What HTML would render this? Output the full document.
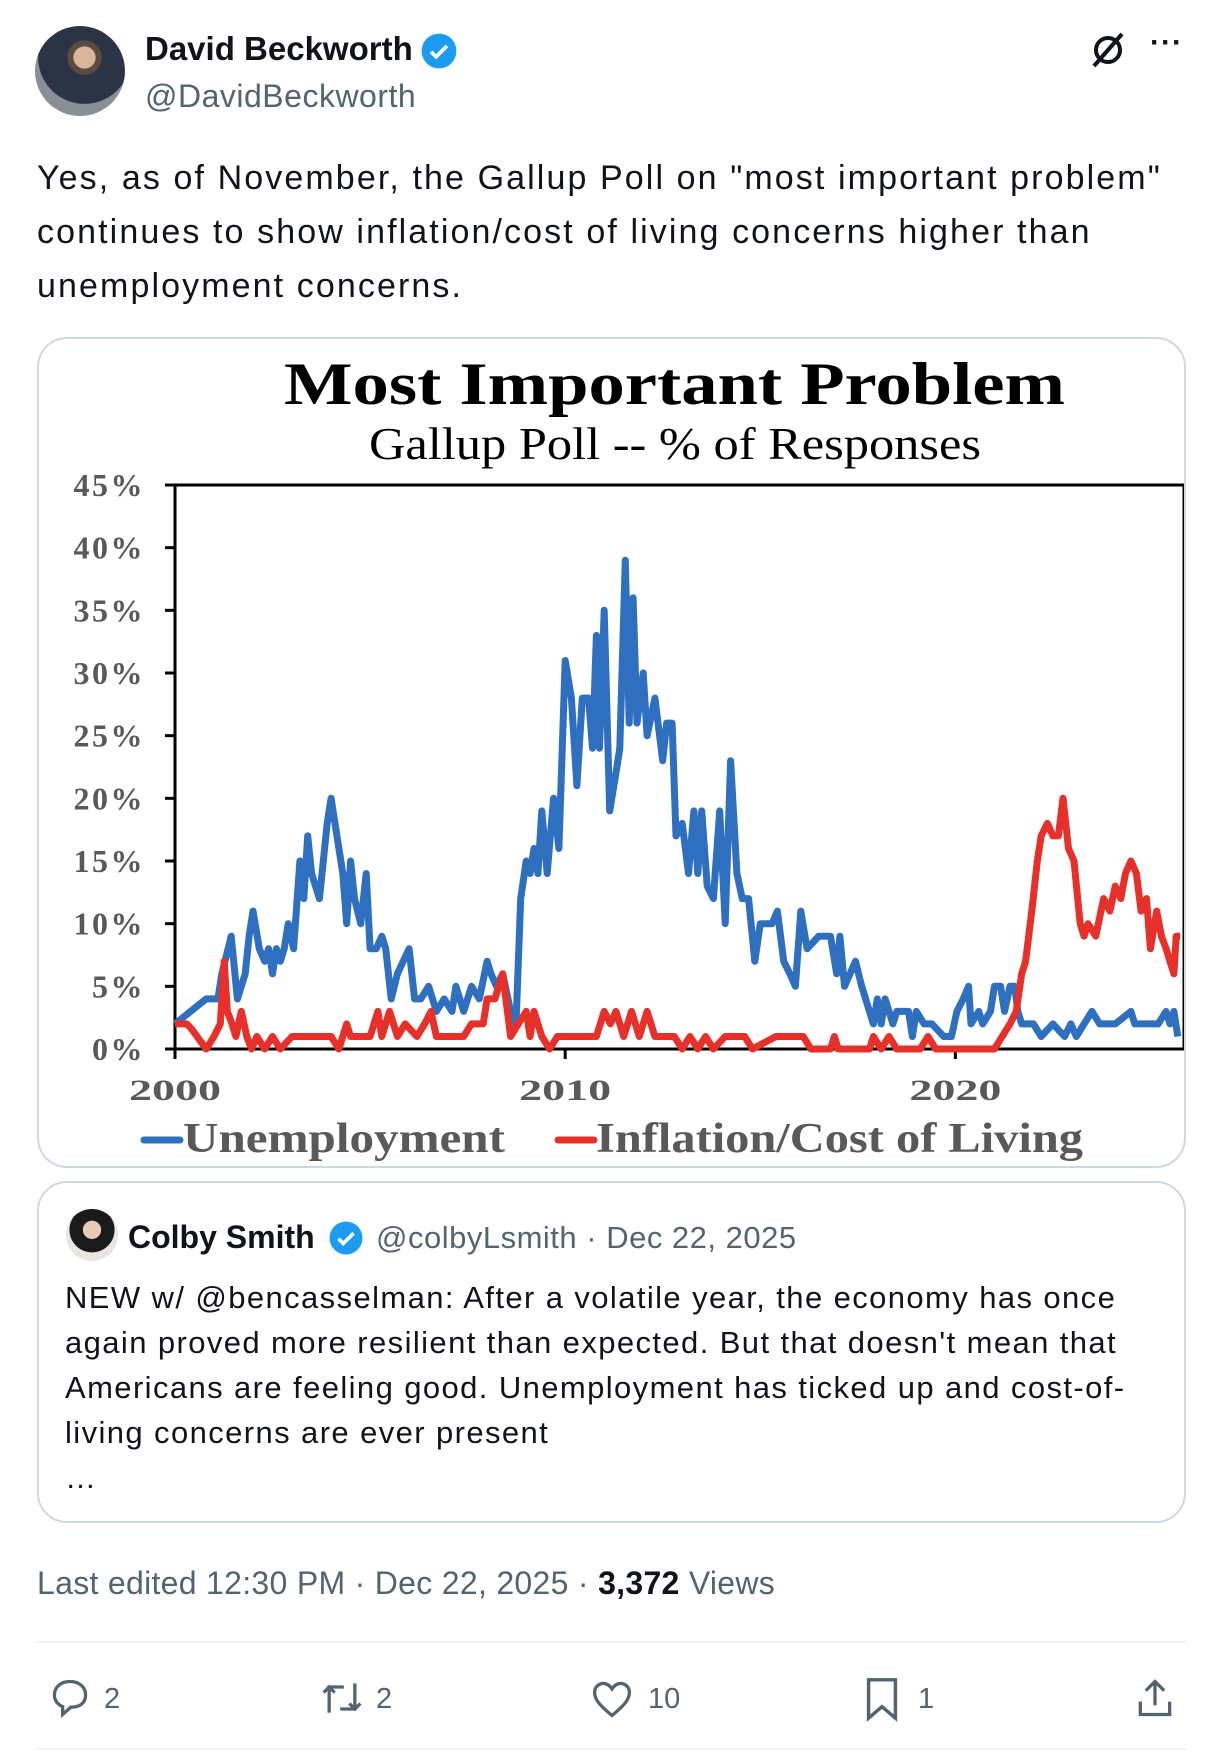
<!DOCTYPE html>
<html><head><meta charset="utf-8">
<style>
body{margin:0;width:1229px;height:1758px;background:#fff;position:relative;overflow:hidden;font-family:"Liberation Sans",sans-serif;color:#0f1419}
.abs{position:absolute;white-space:nowrap}
.gray{color:#536471}
</style></head><body>
<div class="abs" style="left:35px;top:26px;width:90px;height:90px;border-radius:50%;background:radial-gradient(circle at 55% 35%,#d9b59a 0 14%,#5a4a40 15% 22%,#2b3445 23% 60%,#8a8f96 61%);"></div>
<div class="abs" style="left:145px;top:30px;font-size:33px;font-weight:bold;">David Beckworth</div>
<svg class="abs" style="left:420px;top:32px" width="38" height="38" viewBox="0 0 24 24"><circle cx="12" cy="12" r="11" fill="#1d9bf0"/><path d="M7 12.5l3.2 3.2L17 8.8" stroke="#fff" stroke-width="2.4" fill="none"/></svg>
<div class="abs gray" style="left:145px;top:78px;font-size:32px;letter-spacing:0.5px">@DavidBeckworth</div>
<svg class="abs" style="left:1088px;top:30px" width="40" height="40" viewBox="0 0 40 40"><circle cx="20" cy="20" r="12" stroke="#0f1419" stroke-width="4" fill="none"/><path d="M34 4L6 36" stroke="#0f1419" stroke-width="4"/></svg>
<div class="abs" style="left:1150px;top:26px;font-size:30px;font-weight:bold;letter-spacing:1px">···</div>
<div class="abs" style="left:37px;top:151px;font-size:34px;line-height:54px;letter-spacing:2.1px">Yes, as of November, the Gallup Poll on "most important problem"<br>continues to show inflation/cost of living concerns higher than<br>unemployment concerns.</div>

<div class="abs" style="left:37px;top:337px;width:1149px;height:831px;border:2px solid #cfd9de;border-radius:30px;box-sizing:border-box;overflow:hidden">
<svg id="chart" width="1149" height="831" style="position:absolute;left:-37px;top:-337px;overflow:visible"></svg>
</div>

<div class="abs" style="left:37px;top:1181px;width:1149px;height:342px;border:2px solid #cfd9de;border-radius:30px;box-sizing:border-box"></div>
<div class="abs" style="left:66px;top:1209px;width:52px;height:52px;border-radius:50%;background:radial-gradient(circle at 50% 40%,#e8c9b5 0 22%,#1a1a1a 23% 55%,#e9e6e2 56%)"></div>
<div class="abs" style="left:128px;top:1219px;font-size:32px;font-weight:bold">Colby Smith</div>
<svg class="abs" style="left:328px;top:1220px" width="36" height="36" viewBox="0 0 24 24"><circle cx="12" cy="12" r="11" fill="#1d9bf0"/><path d="M7 12.5l3.2 3.2L17 8.8" stroke="#fff" stroke-width="2.4" fill="none"/></svg>
<div class="abs gray" style="left:376px;top:1220px;font-size:31px;letter-spacing:0.5px">@colbyLsmith · Dec 22, 2025</div>
<div class="abs" style="left:65px;top:1275px;font-size:31px;line-height:45px;letter-spacing:1.4px">NEW w/ @bencasselman: After a volatile year, the economy has once<br>again proved more resilient than expected. But that doesn't mean that<br>Americans are feeling good. Unemployment has ticked up and cost-of-<br>living concerns are ever present<br>…</div>

<div class="abs gray" style="left:37px;top:1565px;font-size:32px;letter-spacing:0.3px">Last edited 12:30 PM · Dec 22, 2025 · <b style="color:#0f1419">3,372</b> Views</div>
<div class="abs" style="left:37px;top:1641px;width:1149px;height:2px;background:#eff3f4"></div>
<div class="abs" style="left:37px;top:1748px;width:1149px;height:2px;background:#eff3f4"></div>

<svg class="abs" style="left:48px;top:1676px" width="44" height="44" viewBox="0 0 24 24"><path d="M12 3c5 0 8.5 3 8.5 7.5S17 17 12.5 17L8 21v-4.3C5 15.5 3.5 13 3.5 10.5 3.5 6 7 3 12 3z" fill="none" stroke="#536471" stroke-width="1.8"/></svg>
<div class="abs gray" style="left:104px;top:1683px;font-size:29px">2</div>
<svg class="abs" style="left:318px;top:1676px" width="48" height="44" viewBox="0 0 24 24"><path d="M5 20V6h8M2 9l3-3 3 3M19 4v14h-8M16 15l3 3 3-3" fill="none" stroke="#536471" stroke-width="1.8"/></svg>
<div class="abs gray" style="left:376px;top:1683px;font-size:29px">2</div>
<svg class="abs" style="left:590px;top:1677px" width="44" height="44" viewBox="0 0 24 24"><path d="M12 21C6 16 2.5 12.5 2.5 8.5 2.5 5.5 4.8 3.5 7.3 3.5 9.5 3.5 11 5 12 6.5 13 5 14.5 3.5 16.7 3.5c2.5 0 4.8 2 4.8 5 0 4-3.5 7.5-9.5 12.5z" fill="none" stroke="#536471" stroke-width="1.8"/></svg>
<div class="abs gray" style="left:648px;top:1683px;font-size:29px">10</div>
<svg class="abs" style="left:862px;top:1676px" width="40" height="46" viewBox="0 0 20 24"><path d="M3 2h14v20l-7-6-7 6z" fill="none" stroke="#536471" stroke-width="1.8"/></svg>
<div class="abs gray" style="left:918px;top:1683px;font-size:29px">1</div>
<svg class="abs" style="left:1133px;top:1676px" width="44" height="44" viewBox="0 0 24 24"><path d="M12 16V3M7 8l5-5 5 5M4 14v7h16v-7" fill="none" stroke="#536471" stroke-width="1.8"/></svg>

<script>
const yTicks=["0%","5%","10%","15%","20%","25%","30%","35%","40%","45%"];
const yTickValues=[0,5,10,15,20,25,30,35,40,45];
const xTickLabels=["2000","2010","2020"];
const xTickValues=[2000,2010,2020];
const unempDates=[0,0.4,0.8,1.1,1.2,1.44,1.6,1.8,1.9,2.0,2.16,2.3,2.4,2.5,2.6,2.7,2.8,2.9,3.04,3.2,3.3,3.4,3.5,3.7,3.9,4.0,4.1,4.3,4.4,4.5,4.6,4.76,4.9,5.0,5.16,5.3,5.4,5.54,5.7,6.0,6.14,6.3,6.5,6.7,6.9,7.1,7.2,7.4,7.6,7.8,8.0,8.1,8.24,8.4,8.6,8.74,8.86,9.0,9.1,9.2,9.3,9.4,9.54,9.7,9.84,10.0,10.16,10.3,10.44,10.6,10.7,10.8,10.88,11.0,11.14,11.3,11.4,11.54,11.64,11.74,11.84,12.0,12.1,12.3,12.5,12.6,12.74,12.84,13.0,13.16,13.3,13.4,13.5,13.64,13.8,13.96,14.1,14.24,14.4,14.54,14.7,14.86,15.0,15.3,15.44,15.6,15.76,15.9,16.04,16.2,16.5,16.8,16.96,17.04,17.16,17.3,17.44,17.6,17.8,17.9,18.0,18.1,18.2,18.4,18.5,18.8,18.9,19.0,19.2,19.4,19.7,19.9,20.04,20.2,20.34,20.4,20.6,20.7,20.9,21.0,21.16,21.26,21.4,21.52,21.6,21.7,22.0,22.2,22.5,22.8,22.96,23.1,23.3,23.5,23.7,24.1,24.5,24.6,25.2,25.4,25.5,25.6,25.7];
const unempValues=[2,3,4,4,6,9,4,6,9,11,8,7,8,6,8,7,8,10,8,15,12,17,14,12,18,20,18,14,10,15,12,10,14,8,8,9,8,4,6,8,4,4,5,3,4,3,5,3,5,4,7,6,5,6,3,2,12,15,14,16,14,19,14,20,16,31,28,21,28,28,24,33,24,35,19,22,24,39,26,36,26,30,25,28,23,26,26,17,18,14,19,14,19,13,12,19,10,23,14,12,12,7,10,10,11,7,6,5,11,8,9,9,6,9,5,6,7,5,3,2,4,2,4,2,3,3,1,3,2,2,1,1,3,4,5,2,3,2,3,5,5,3,5,5,3,2,2,1,2,1,2,1,2,3,2,2,3,2,2,3,2,3,1];
const inflDates=[0,0.3,0.4,0.8,1.0,1.16,1.26,1.34,1.46,1.56,1.7,1.84,1.96,2.1,2.3,2.5,2.7,3.0,3.2,3.4,4.0,4.2,4.4,4.5,5.0,5.2,5.3,5.5,5.7,5.9,6.2,6.4,6.56,6.7,7.0,7.4,7.6,7.9,8.0,8.2,8.4,8.6,8.8,9.0,9.1,9.2,9.4,9.6,9.8,10.0,10.2,10.8,11.0,11.16,11.3,11.5,11.7,11.9,12.1,12.3,12.8,13.0,13.2,13.4,13.6,13.8,14.1,14.6,14.8,15.4,16.1,16.3,16.8,16.9,17.0,17.8,17.9,18.1,18.3,18.5,19.1,19.3,19.5,21.0,21.2,21.4,21.56,21.7,21.8,21.96,22.1,22.2,22.36,22.5,22.64,22.76,22.9,23.04,23.2,23.3,23.4,23.6,23.8,23.96,24.1,24.24,24.36,24.5,24.64,24.76,24.9,25.0,25.16,25.28,25.4,25.5,25.6,25.66,25.76];
const inflValues=[2,2,1.7,0,1,2,7,3,2,1,3,1,0,1,0,1,0,1,1,1,1,0,2,1,1,3,1,3,1,2,1,2,3,1,1,1,2,2,4,4,6,1,2,3,1,3,1,0,1,1,1,1,3,2,3,1,3,1,3,1,1,0,1,0,1,0,1,1,0,1,1,0,0,1,0,0,1,0,1,0,0,1,0,0,1,2,3,6,7,11,15,17,18,17,17,20,16,15,10,9,10,9,12,11,13,12,14,15,14,11,12,8,11,9,8,7,6,9,9];

const NS="http://www.w3.org/2000/svg";
const svg=document.getElementById('chart');
const X0=173,X1=1182,Y0=1047,Y1=483,YEAR_SPAN=25.86,YMAX=45;
const xs=d=>X0+d/YEAR_SPAN*(X1-X0);
const ys=v=>Y0-v/YMAX*(Y0-Y1);
function mk(tag,attrs,text){const e=document.createElementNS(NS,tag);for(const k in attrs)e.setAttribute(k,attrs[k]);if(text!==undefined)e.textContent=text;svg.appendChild(e);return e;}
const serif='"Liberation Serif",serif';
let t=mk('text',{x:282,y:402,'font-family':serif,'font-weight':'bold','font-size':60,fill:'#000',textLength:781,lengthAdjust:'spacingAndGlyphs'},'Most Important Problem');


t=mk('text',{x:367,y:457,'font-family':serif,'font-size':46,fill:'#000',textLength:612,lengthAdjust:'spacingAndGlyphs'},'Gallup Poll -- % of Responses');


let f=mk('rect',{x:X0,y:Y1,width:X1-X0,height:Y0-Y1,fill:'none',stroke:'#000','stroke-width':3});


yTicks.forEach((lab,i)=>{
  const y=ys(yTickValues[i]);
  const tk=mk('line',{x1:X0-10,x2:X0,y1:y,y2:y,stroke:'#000','stroke-width':3});
  
  
  const tl=mk('text',{x:143,y:y+11,'text-anchor':'end','font-family':serif,'font-weight':'bold','font-size':32,'letter-spacing':2.5,fill:'#595959'},lab);
  
  
});
xTickLabels.forEach((lab,i)=>{
  const x=xs(xTickValues[i]-2000);
  const tk=mk('line',{x1:x,x2:x,y1:Y0,y2:Y0+10,stroke:'#000','stroke-width':3});
  
  
  const tl=mk('text',{x:x-46,y:1098,'font-family':serif,'font-weight':'bold','font-size':30,fill:'#595959',textLength:92,lengthAdjust:'spacingAndGlyphs'},lab);
  
  
});
function line(dates,vals,color,name){
  const d=dates.map((v,i)=>(i?'L':'M')+xs(v).toFixed(1)+','+ys(vals[i]).toFixed(1)).join('');
  const p=mk('path',{d:d,fill:'none',stroke:color,'stroke-width':7,'stroke-linejoin':'round'});
  
  
}
line(unempDates,unempValues,'#2f6fbf','unemployment-line');
line(inflDates,inflValues,'#e8302a','inflation-line');
let l=mk('line',{x1:142,x2:178,y1:1138,y2:1138,stroke:'#2f6fbf','stroke-width':7,'stroke-linecap':'round'});


t=mk('text',{x:181,y:1150,'font-family':serif,'font-weight':'bold','font-size':42,fill:'#595959',textLength:322,lengthAdjust:'spacingAndGlyphs'},'Unemployment');


l=mk('line',{x1:556,x2:592,y1:1138,y2:1138,stroke:'#e8302a','stroke-width':7,'stroke-linecap':'round'});


t=mk('text',{x:594,y:1150,'font-family':serif,'font-weight':'bold','font-size':42,fill:'#595959',textLength:487,lengthAdjust:'spacingAndGlyphs'},'Inflation/Cost of Living');


</script>
</body></html>
